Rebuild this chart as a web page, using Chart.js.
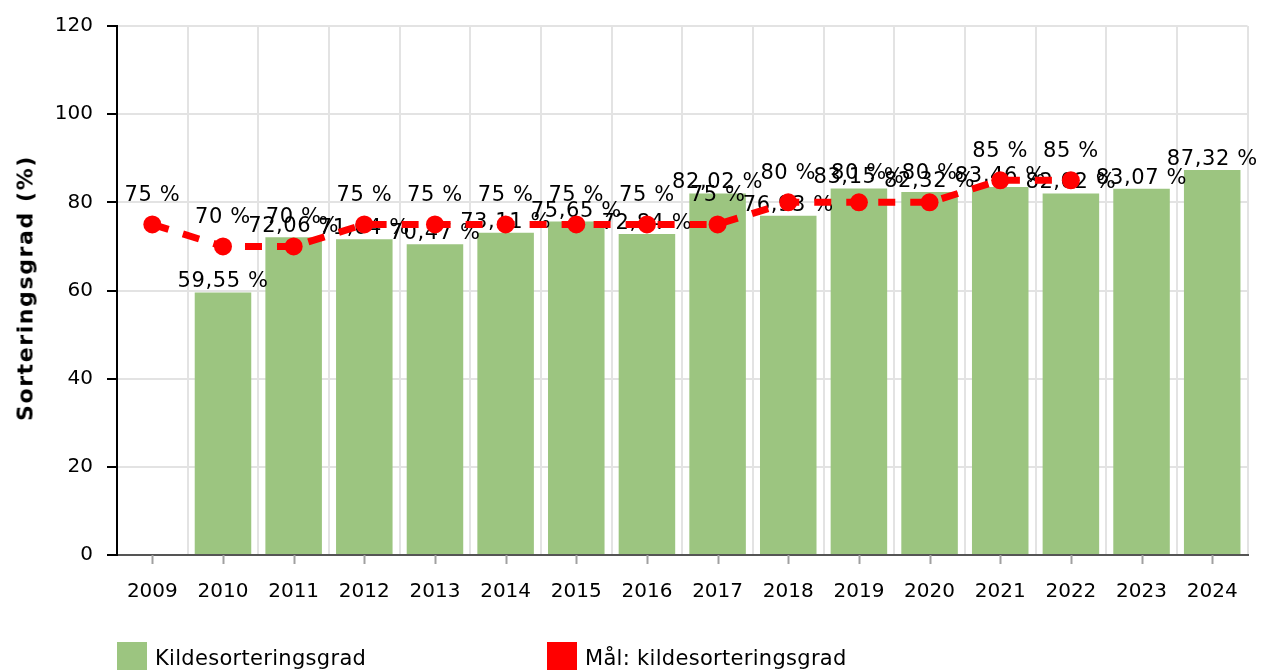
<!DOCTYPE html>
<html lang="no">
<head>
  <meta charset="UTF-8" />
  <title>Kildesorteringsgrad</title>
  <style>
    body { margin: 0; background: #fff; font-family: "DejaVu Sans", Verdana, sans-serif; }
    #wrap { position: relative; width: 1263px; height: 670px; overflow: hidden; }
    #chart { position: absolute; left: 0; top: 0; }
    .legend-item { position: absolute; top: 642px; display: flex; align-items: flex-start; font-size: 21px; letter-spacing: 0.3px; color: #000; }
    .legend-box { width: 30px; height: 30px; margin-right: 8px; }
    .legend-text { line-height: 24px; margin-top: 4px; }
    #ytitle {
      position: absolute; left: 25px; top: 288px;
      transform: translate(-50%, -50%) rotate(-90deg);
      white-space: nowrap; font-weight: bold; font-size: 22px; letter-spacing: 1.6px; color: #000;
    }
  </style>
</head>
<body>
  <div id="wrap">
    <canvas id="chart" width="1263" height="670"></canvas>
    <div id="ytitle"></div>
    <div class="legend-item" style="left:117px"><div class="legend-box" style="background:#9cc580"></div><span class="legend-text" id="lg0"></span></div>
    <div class="legend-item" style="left:547px"><div class="legend-box" style="background:#ff0000"></div><span class="legend-text" id="lg1"></span></div>
  </div>

  <script src="https://cdn.jsdelivr.net/npm/chart.js"></script>
  <script>
    // data
    const years = ['2009', '2010', '2011', '2012', '2013', '2014', '2015', '2016', '2017', '2018', '2019', '2020', '2021', '2022', '2023', '2024'];
    const sortingRate = [null, 59.55, 72.06, 71.64, 70.47, 73.11, 75.65, 72.84, 82.02, 76.93, 83.15, 82.32, 83.46, 82.02, 83.07, 87.32];
    const target = [75, 70, 70, 75, 75, 75, 75, 75, 75, 80, 80, 80, 85, 85, null, null];
    const seriesNames = ['Kildesorteringsgrad', 'Mål: kildesorteringsgrad'];
    const yTitle = 'Sorteringsgrad (%)';

    const FONT = '"DejaVu Sans", Verdana, sans-serif';
    document.getElementById('lg0').textContent = seriesNames[0];
    document.getElementById('lg1').textContent = seriesNames[1];
    document.getElementById('ytitle').textContent = yTitle;

    function fmt(v) {
      // comma decimals, whole numbers without decimals
      if (Number.isInteger(v)) return v + ' %';
      return v.toFixed(2).replace('.', ',') + ' %';
    }

    // value labels above bars and line points
    const valueLabels = {
      id: 'valueLabels',
      afterDatasetDraw(chart, args) {
        const ctx = chart.ctx;
        const ds = chart.data.datasets[args.index];
        ctx.save();
        ctx.font = '21px ' + FONT;
        ctx.letterSpacing = '0.6px';
        ctx.fillStyle = '#000';
        ctx.textAlign = 'center';
        ctx.textBaseline = 'alphabetic';
        args.meta.data.forEach((el, i) => {
          const v = ds.data[i];
          if (v == null) return;
          const dy = ds.type === 'line' ? 23 : 5;
          ctx.fillText(fmt(v), el.x, el.y - dy);
        });
        ctx.restore();
      }
    };

    // small tick marks under the x axis at category centres
    const xTickMarks = {
      id: 'xTickMarks',
      afterDraw(chart) {
        const x = chart.scales.x;
        const ctx = chart.ctx;
        ctx.save();
        ctx.strokeStyle = '#a0a0a0';
        ctx.lineWidth = 2;
        years.forEach((y, i) => {
          const px = Math.round(x.getPixelForValue(i)) + 0.5;
          ctx.beginPath();
          ctx.moveTo(px, x.top);
          ctx.lineTo(px, x.top + 9);
          ctx.stroke();
        });
        ctx.restore();
      }
    };

    new Chart(document.getElementById('chart'), {
      data: {
        labels: years,
        datasets: [
          {
            type: 'bar',
            label: seriesNames[0],
            data: sortingRate,
            backgroundColor: '#9cc580',
            barPercentage: 0.8,
            categoryPercentage: 1,
            order: 2
          },
          {
            type: 'line',
            label: seriesNames[1],
            data: target,
            borderColor: '#ff0000',
            backgroundColor: '#ff0000',
            borderWidth: 7,
            borderDash: [17, 15],
            pointRadius: 9,
            pointBorderWidth: 0,
            pointBackgroundColor: '#ff0000',
            tension: 0,
            spanGaps: false,
            order: 1
          }
        ]
      },
      options: {
        responsive: false,
        animation: false,
        layout: { autoPadding: false, padding: { left: 0, right: 11, top: 22, bottom: 0 } },
        plugins: {
          legend: { display: false },
          tooltip: { enabled: false }
        },
        scales: {
          x: {
            offset: true,
            grid: { offset: true, color: '#e3e3e3', lineWidth: 2, tickLength: 0 },
            border: { color: '#555', width: 2 },
            ticks: { color: '#000', font: { family: FONT, size: 20 }, padding: 25, maxRotation: 0, autoSkip: false },
            afterFit(s) { s.height = 115; }
          },
          y: {
            min: 0,
            max: 120,
            ticks: { stepSize: 20, color: '#000', font: { family: FONT, size: 20 }, padding: 14 },
            grid: { color: '#e3e3e3', lineWidth: 2, tickLength: 10, tickColor: '#000', tickWidth: 2 },
            border: { color: '#000', width: 2 },
            afterFit(s) { s.width = 117; }
          }
        }
      },
      plugins: [valueLabels, xTickMarks]
    });
  </script>
</body>
</html>
